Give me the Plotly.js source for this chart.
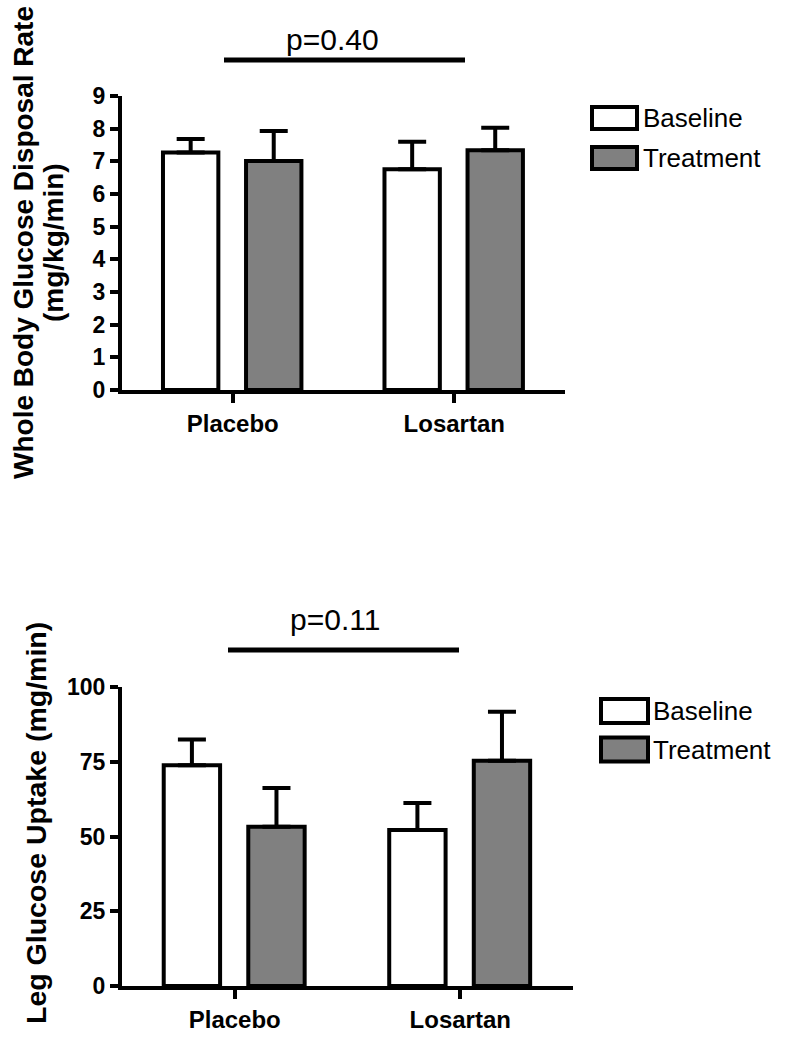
<!DOCTYPE html>
<html>
<head>
<meta charset="utf-8">
<script src="https://cdn.plot.ly/plotly-3.0.1.min.js"></script>
<style>html,body{margin:0;padding:0;background:#fff;}#chart{width:789px;height:1050px;}</style>
</head>
<body>
<div id="chart"></div>
<script>
// ---- data ----
var categories = ['Placebo', 'Losartan'];
var seriesNames = ['Baseline', 'Treatment'];

// Whole body glucose disposal rate (mg/kg/min)
var gdrBaseline = [7.27, 6.76];
var gdrBaselineErr = [0.41, 0.84];
var gdrTreatment = [7.01, 7.34];
var gdrTreatmentErr = [0.92, 0.69];

// Leg glucose uptake (mg/min)
var lguBaseline = [73.8, 52.2];
var lguBaselineErr = [8.6, 9.0];
var lguTreatment = [53.3, 75.3];
var lguTreatmentErr = [12.9, 16.4];

var pTop = 'p=0.40';
var pBottom = 'p=0.11';
var titleTop1 = 'Whole Body Glucose Disposal Rate';
var titleTop2 = '(mg/kg/min)';
var titleBottom = 'Leg Glucose Uptake (mg/min)';

// ---- helpers ----
var W = 789, H = 1050;
function px(x) { return x / W; }
function py(y) { return 1 - y / H; }
var FONT = 'Liberation Sans, Arial, sans-serif';
var colors = ['#ffffff', '#808080'];
var barWidth = 0.25;
var offsets = [-0.315, 0.06];

function barTrace(vals, errs, idx, xa, ya) {
  return {
    type: 'bar', x: categories, y: vals, name: seriesNames[idx],
    xaxis: xa, yaxis: ya, width: barWidth, offset: offsets[idx],
    marker: {color: colors[idx], line: {color: '#000', width: 4}},
    error_y: {type: 'data', symmetric: false, array: errs,
      arrayminus: vals.map(function () { return 0; }),
      color: '#000', thickness: 4, width: 14},
    showlegend: false, hoverinfo: 'x+y'
  };
}

var data = [
  barTrace(gdrBaseline, gdrBaselineErr, 0, 'x', 'y'),
  barTrace(gdrTreatment, gdrTreatmentErr, 1, 'x', 'y'),
  barTrace(lguBaseline, lguBaselineErr, 0, 'x2', 'y2'),
  barTrace(lguTreatment, lguTreatmentErr, 1, 'x2', 'y2')
];

function xAxis(domain, anchor) {
  return {
    domain: domain, anchor: anchor, type: 'category', range: [-0.5, 1.5],
    showline: true, linewidth: 4, linecolor: '#000',
    ticks: 'outside', ticklen: 9, tickwidth: 4, tickcolor: '#000',
    showgrid: false, zeroline: false, fixedrange: true,
    tickfont: {family: FONT, size: 24, color: '#000', weight: 'bold'}
  };
}
function yAxis(domain, anchor, range, dtick) {
  return {
    domain: domain, anchor: anchor, range: range, dtick: dtick,
    showline: true, linewidth: 4, linecolor: '#000',
    ticks: 'outside', ticklen: 8, tickwidth: 4, tickcolor: '#000',
    showgrid: false, zeroline: false, fixedrange: true,
    tickfont: {family: FONT, size: 23, color: '#000', weight: 'bold'}
  };
}

var shapes = [];
var annotations = [];

function legendAt(x0, y0, boxW, boxH, gap, textX) {
  for (var i = 0; i < 2; i++) {
    var yt = y0 + i * gap;
    shapes.push({type: 'rect', xref: 'paper', yref: 'paper',
      x0: px(x0), x1: px(x0 + boxW), y0: py(yt + boxH), y1: py(yt),
      fillcolor: colors[i], line: {color: '#000', width: 4}});
    annotations.push({xref: 'paper', yref: 'paper', x: px(textX), y: py(yt + boxH / 2),
      xanchor: 'left', yanchor: 'middle', showarrow: false, text: seriesNames[i],
      font: {family: FONT, size: 26, color: '#000'}});
  }
}
legendAt(592, 107, 45, 22, 40, 641);
legendAt(601, 699, 47, 24, 38.5, 651);

function sigLine(x0, x1, yLine, xText, yText, label) {
  shapes.push({type: 'line', xref: 'paper', yref: 'paper',
    x0: px(x0), x1: px(x1), y0: py(yLine), y1: py(yLine),
    line: {color: '#000', width: 5}});
  annotations.push({xref: 'paper', yref: 'paper', x: px(xText), y: py(yText),
    xanchor: 'center', yanchor: 'middle', showarrow: false, text: label,
    font: {family: FONT, size: 30, color: '#000'}});
}
sigLine(224, 465, 60, 332, 40, pTop);
sigLine(228, 459, 650, 335, 619, pBottom);

function rotTitle(text, x, y, size) {
  annotations.push({xref: 'paper', yref: 'paper', x: px(x), y: py(y),
    xanchor: 'center', yanchor: 'middle', showarrow: false, text: text, textangle: -90,
    font: {family: FONT, size: size, color: '#000', weight: 'bold'}});
}
rotTitle(titleTop1, 23, 243, 28);
rotTitle(titleTop2, 53, 243, 28);
rotTitle(titleBottom, 36, 823, 28.5);

var layout = {
  width: W, height: H, autosize: false,
  margin: {l: 0, r: 0, t: 0, b: 0, pad: 0},
  paper_bgcolor: '#fff', plot_bgcolor: '#fff',
  barmode: 'overlay', showlegend: false,
  xaxis: xAxis([px(122), px(565)], 'y'),
  yaxis: yAxis([py(390), py(96)], 'x', [0, 9], 1),
  xaxis2: xAxis([px(122), px(573)], 'y2'),
  yaxis2: yAxis([py(986), py(687)], 'x2', [0, 100], 25),
  shapes: shapes,
  annotations: annotations
};

Plotly.newPlot('chart', data, layout, {displayModeBar: false, staticPlot: true});
</script>
</body>
</html>
